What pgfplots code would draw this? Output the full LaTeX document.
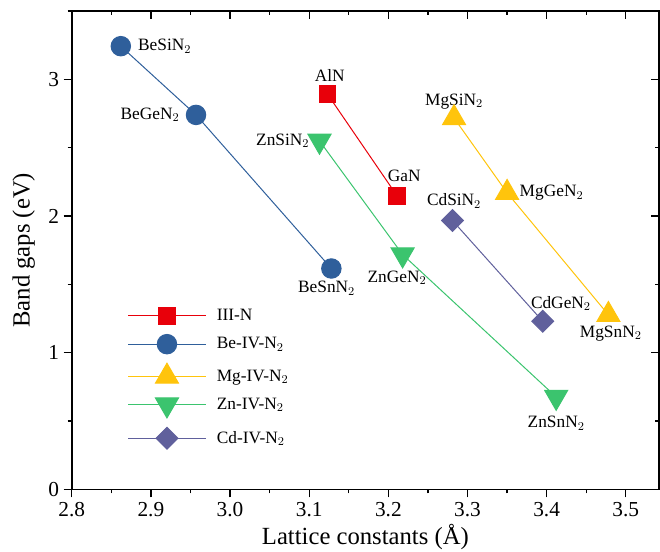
\documentclass[border=0pt]{standalone}
\usepackage{fontspec}
\setmainfont{Liberation Serif}
\usepackage{pgfplots}
\pgfplotsset{compat=1.18}
\definecolor{cRed}{RGB}{232,0,10}
\definecolor{cBlue}{RGB}{47,95,155}
\definecolor{cYel}{RGB}{255,196,12}
\definecolor{cGrn}{RGB}{59,196,110}
\definecolor{cPur}{RGB}{96,96,156}
\pgfplotsset{
  mylegend/.style={legend image code/.code={
    \draw[mark repeat=2,mark phase=2] plot coordinates {(0pt,0pt) (29pt,0pt) (58pt,0pt)};}},
}
\begin{document}
\begin{tikzpicture}
\begin{axis}[
  scale only axis, width=440.5pt, height=358.7pt,
  xmin=2.8, xmax=3.542, ymin=0, ymax=3.5,
  axis line style={line width=1.2pt},
  xtick={2.8,2.9,...,3.51}, ytick={0,1,2,3},
  minor xtick={2.85,2.95,...,3.56}, minor ytick={0.5,1.5,2.5,3.5},
  xtick pos=bottom, ytick pos=left,
  tick align=outside,
  major tick length=6pt, minor tick length=3pt,
  tick style={line width=1.0pt, black},
  xticklabel={\pgfmathprintnumber[fixed,fixed zerofill,precision=1,assume math mode=true]{\tick}},
  yticklabel={\pgfmathprintnumber[fixed,precision=0,assume math mode=true]{\tick}},
  xticklabel style={font=\rmfamily\fontsize{16}{18}\selectfont},
  yticklabel style={font=\rmfamily\fontsize{16}{18}\selectfont},
  xlabel={Lattice constants (Å)}, ylabel={Band gaps (eV)},
  label style={font=\fontsize{18.5}{20}\selectfont},
  xlabel style={at={(axis description cs:0.5,0)}, anchor=north, yshift=-23pt},
  ylabel style={at={(axis description cs:0,0.5)}, anchor=south, yshift=24pt},
  legend style={draw=none, fill=none, at={(axis description cs:0.095,0.383)}, anchor=north west,
    font=\fontsize{13}{15}\selectfont, row sep=7pt, inner sep=0pt,
    /tikz/every odd column/.append style={column sep=6pt}},
  legend cell align=left,
  mylegend,
  every axis plot/.append style={line width=0.75pt},
  clip=false,
]
\addplot[cRed, mark=square*, mark size=6.2pt, mark options={solid}] coordinates {(3.123,2.893) (3.211,2.148)};
\addlegendentry{III-N}
\addplot[cBlue, mark=*, mark size=7.3pt] coordinates {(2.862,3.243) (2.957,2.740) (3.128,1.616)};
\addlegendentry{Be-IV-N$_2$}
\addplot[cYel, mark=triangle*, mark size=10pt] coordinates {(3.283,2.717) (3.350,2.170) (3.478,1.277)};
\addlegendentry{Mg-IV-N$_2$}
\addplot[cGrn, mark=triangle*, mark size=10pt, mark options={rotate=180}] coordinates {(3.113,2.550) (3.218,1.718) (3.412,0.676)};
\addlegendentry{Zn-IV-N$_2$}
\addplot[cPur, mark=square*, mark size=5.8pt, mark options={rotate=45}] coordinates {(3.281,1.967) (3.395,1.230)};
\addlegendentry{Cd-IV-N$_2$}
\begin{scope}[font=\fontsize{13}{15}\selectfont]
\node[anchor=west] at (axis cs:2.878,3.243) {BeSiN$_2$};
\node[anchor=east] at (axis cs:2.942,2.740) {BeGeN$_2$};
\node at (axis cs:3.122,1.47) {BeSnN$_2$};
\node at (axis cs:3.126,3.03) {AlN};
\node at (axis cs:3.220,2.295) {GaN};
\node[anchor=east] at (axis cs:3.106,2.55) {ZnSiN$_2$};
\node at (axis cs:3.211,1.55) {ZnGeN$_2$};
\node at (axis cs:3.412,0.484) {ZnSnN$_2$};
\node at (axis cs:3.283,2.84) {MgSiN$_2$};
\node[anchor=west] at (axis cs:3.360,2.17) {MgGeN$_2$};
\node at (axis cs:3.481,1.14) {MgSnN$_2$};
\node at (axis cs:3.283,2.11) {CdSiN$_2$};
\node at (axis cs:3.418,1.36) {CdGeN$_2$};
\end{scope}
\end{axis}
\begin{axis}[
  scale only axis, width=440.5pt, height=358.7pt,
  xmin=2.8, xmax=3.542, ymin=0, ymax=3.5,
  axis line style={line width=1.2pt},
  xtick={2.8,2.9,...,3.51}, ytick={0,1,2,3},
  minor xtick={2.85,2.95,...,3.56}, minor ytick={0.5,1.5,2.5,3.5},
  xtick pos=top, ytick pos=right,
  tick align=inside,
  major tick length=6pt, minor tick length=3pt,
  tick style={line width=1.0pt, black},
  xticklabels={}, yticklabels={},
]
\end{axis}
\pgfresetboundingbox
\path[use as bounding box] (-53.8pt,-47pt) rectangle (441.2pt,367pt);
\end{tikzpicture}
\end{document}
